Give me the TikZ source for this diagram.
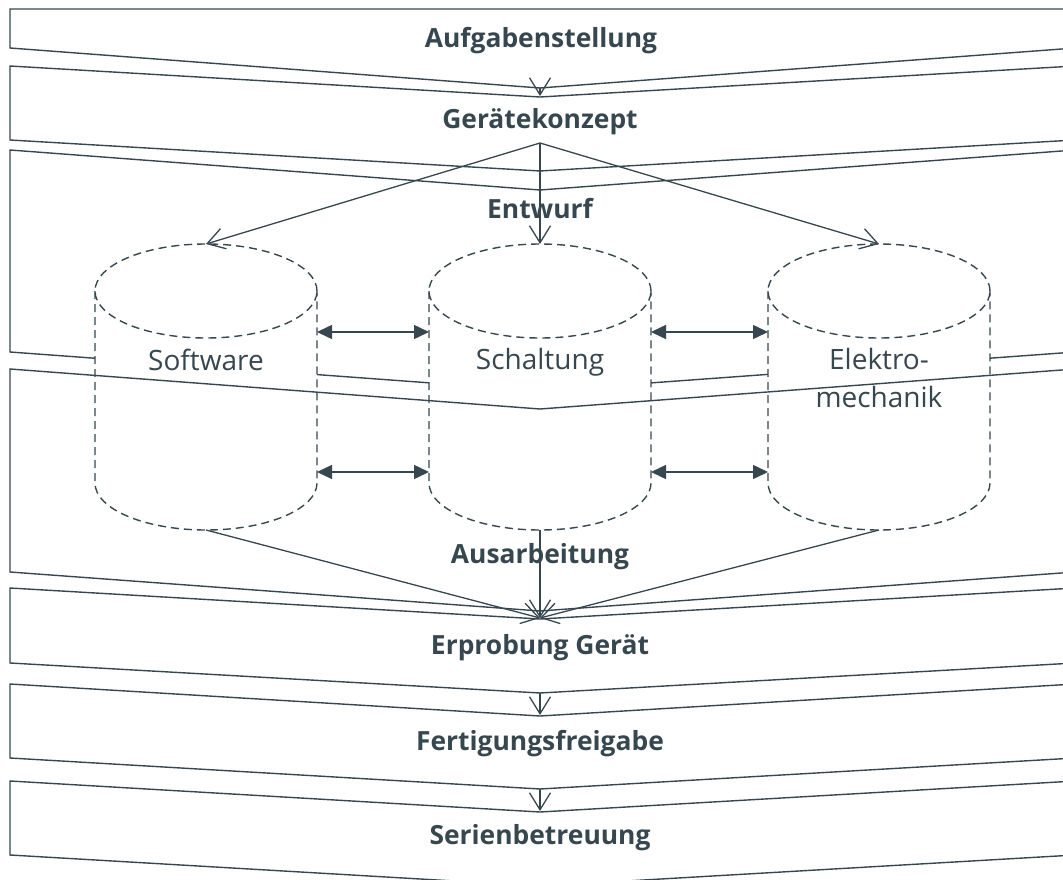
\documentclass[tikz,border=0pt]{standalone}
\usepackage{fontspec}
\setmainfont{Open Sans}
\usetikzlibrary{arrows.meta}
\definecolor{ink}{RGB}{55,71,79}

% one dashed cylinder, axis vertical, centred on x = 0
\tikzset{
  cyldash/.style={draw=ink, line width=1.4pt, dash pattern=on 8pt off 5pt},
  cylpic/.pic={
    \path[fill=white] (-111,291) -- (-111,483)
      .. controls (-111,509) and (-61,530) .. (0,530)
      .. controls (61,530) and (111,509) .. (111,483)
      -- (111,291)
      .. controls (111,265) and (61,244) .. (0,244)
      .. controls (-61,244) and (-111,265) .. (-111,291) -- cycle;
    \draw[cyldash] (0,291) ellipse [x radius=111pt, y radius=47pt];
    \draw[cyldash] (-111,291) -- (-111,483)
      .. controls (-111,509) and (-61,530) .. (0,530)
      .. controls (61,530) and (111,509) .. (111,483) -- (111,291);
    \coordinate (-top) at (0,244);
    \coordinate (-bot) at (0,530);
    \coordinate (-lu) at (-111,332);
    \coordinate (-ru) at (111,332);
    \coordinate (-ll) at (-111,472);
    \coordinate (-rl) at (111,472);
  }
}

% chevron band: [style]{side top}{centre top}{side bottom}{centre bottom}
\newcommand\chevron[5][band]{%
  \path[#1] (10,#2) -- (540,#3) -- (1075,#2) -- (1075,#4) -- (540,#5) -- (10,#4) -- cycle;}

\begin{document}
\begin{tikzpicture}[x=1pt, y=-1pt, line join=miter,
  band/.style={draw=ink, line width=1.4pt, fill=white},
  bandline/.style={draw=ink, line width=1.4pt},
  phase/.style={text=ink, font=\fontsize{26.4}{30}\selectfont\bfseries, anchor=base, inner sep=0pt},
  part/.style={text=ink, font=\fontsize{28}{38}\selectfont, anchor=base, inner sep=0pt, align=center},
  flow/.style={draw=ink, line width=1.3pt, -{Straight Barb[length=17pt,width=21pt]}},
  link/.style={draw=ink, line width=1.5pt, {Triangle[length=15pt,width=14pt]}-{Triangle[length=15pt,width=14pt]}}
]
\useasboundingbox (0,0) rectangle (1063,880);
\clip (0,0) rectangle (1063,880);

% phase bands
\chevron{9}{9}{48}{88}
\chevron{66}{97}{140}{171}
\chevron{150}{190}{352}{391}

% the three parts
\pic (sw)  at (206,0) {cylpic};
\pic (sch) at (540,0) {cylpic};
\pic (em)  at (879,0) {cylpic};

\chevron[bandline]{369}{409}{572}{611}
\chevron{588}{619}{663}{693}
\chevron{684}{716}{758}{789}
\chevron{781}{812}{855}{886}

% labels
\node[phase] (t1) at (541,48)  {Aufgabenstellung};
\node[phase] (t2) at (540,129) {Gerätekonzept};
\node[phase] (t3) at (540,218) {Entwurf};
\node[phase] (t4) at (540,563) {Ausarbeitung};
\node[phase] (t5) at (540,654) {Erprobung Gerät};
\node[phase] (t6) at (540,750) {Fertigungsfreigabe};
\node[phase] (t7) at (540,844) {Serienbetreuung};
\node[part] (c1) at (206,370) {Software};
\node[part] (c2) at (540,369) {Schaltung};
\node[part] (c3) at (879,407) {Elektro-\\mechanik};

% flow points
\coordinate (p1) at (540,88);
\coordinate (n2) at (540,96);
\coordinate (gk) at (540,143);
\coordinate (ep) at (540,618);
\coordinate (p5) at (540,693);
\coordinate (n6) at (540,715);
\coordinate (p6) at (540,789);
\coordinate (n7) at (540,811);

\draw[flow] (p1) -- (n2);
\draw[flow] (gk) -- (sw-top);
\draw[flow] (gk) -- (sch-top);
\draw[flow] (gk) -- (em-top);
\draw[flow] (sw-bot) -- (ep);
\draw[flow] (sch-bot) -- (ep);
\draw[flow] (em-bot) -- (ep);
\draw[flow] (p5) -- (n6);
\draw[flow] (p6) -- (n7);

\draw[link] (sw-ru) -- (sch-lu);
\draw[link] (sw-rl) -- (sch-ll);
\draw[link] (sch-ru) -- (em-lu);
\draw[link] (sch-rl) -- (em-ll);
\end{tikzpicture}
\end{document}
